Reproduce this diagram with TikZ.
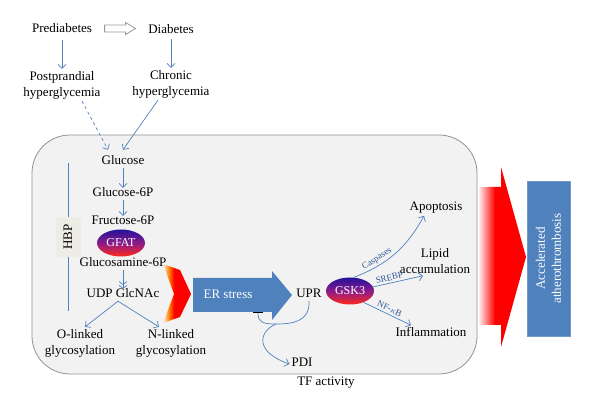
\documentclass[tikz,border=0pt]{standalone}
\usepackage{fontspec}
\setmainfont{Liberation Serif}
\usetikzlibrary{arrows.meta, positioning, shapes.geometric, calc}
\definecolor{flowblue}{HTML}{4F81BD}
\definecolor{tagblue}{HTML}{2F5597}
\definecolor{cellgray}{HTML}{F2F2F2}
\definecolor{hbpbeige}{HTML}{EEEDE5}
\definecolor{enzymetop}{HTML}{23129A}
\definecolor{enzymemid}{HTML}{8B1A8A}
\definecolor{enzymebot}{HTML}{FF2A1A}
\pgfdeclarehorizontalshading{flame}{100bp}{color(0bp)=(orange!10); color(25bp)=(orange!10); color(36bp)=(orange); color(45bp)=(red); color(100bp)=(red)}
\pgfdeclarehorizontalshading{glow}{100bp}{color(0bp)=(red!8); color(25bp)=(red!8); color(42bp)=(red); color(100bp)=(red)}
\tikzset{
    hg_text/.style={
        align=center,
        inner sep=2pt
    },
    hg_step/.style={
        hg_text,
        text height=1.5ex,
        text depth=.25ex
    },
    hg_enzyme/.style={
        ellipse,
        minimum width=48pt,
        minimum height=27pt,
        inner sep=0pt,
        top color=enzymetop,
        bottom color=enzymebot,
        middle color=enzymemid,
        text=white,
        font=\fontsize{12}{14}\selectfont
    },
    hg_cell/.style={
        rectangle,
        rounded corners=38pt,
        draw=gray!85,
        fill=cellgray,
        line width=0.8pt
    },
    hg_hbp/.style={
        rectangle,
        fill=hbpbeige,
        minimum width=40pt,
        minimum height=25pt,
        rotate=90
    },
    hg_outcome/.style={
        rectangle,
        draw=flowblue!80!white,
        fill=flowblue,
        text=white,
        align=center,
        rotate=90,
        minimum width=155pt,
        minimum height=43pt
    },
    hg_flow/.style={
        draw=flowblue,
        line width=0.7pt,
        -{Straight Barb[length=4pt, width=8pt]}
    },
    hg_block/.style={
        draw=flowblue,
        line width=0.7pt,
        -{Bar[width=10pt, line width=1pt, color=black]}
    },
    hg_line/.style={
        draw=flowblue,
        line width=0.7pt
    },
    hg_tag/.style={
        font=\fontsize{9}{10}\selectfont,
        text=tagblue,
        inner sep=1pt,
        outer sep=1.5pt
    },
    hg_hollow/.style={
        draw=gray!80,
        fill=white,
        line width=0.8pt
    }
}

\begin{document}
\begin{tikzpicture}[x=1pt, y=-1pt, font=\fontsize{13}{16}\selectfont]
\fill[white] (0,0) rectangle (600,411);
\useasboundingbox (0,0) rectangle (600,411);

% --- Cell ---
\node[hg_cell, minimum width=445pt, minimum height=239pt] (cell) at (254.5,254.5) {};

% --- Top (Diabetes) ---
\node[hg_text] (pre) at (62,28) {Prediabetes};
\node[hg_text] (dia) at (171,29) {Diabetes};
\node[hg_text, on grid, below=57pt of pre] (post) {Postprandial\\hyperglycemia};
\node[hg_text, on grid, below=55pt of dia] (chr) {Chronic\\hyperglycemia};

% --- Hexosamine pathway ---
\node[hg_step] (glc) at (123,162) {Glucose};
\node[hg_step, on grid, below=32pt of glc] (g6p) {Glucose-6P};
\node[hg_step, on grid, below=28pt of g6p] (f6p) {Fructose-6P};
\node[hg_enzyme, on grid, below=21pt of f6p, xshift=-2pt] (gfat) {GFAT};
\node[hg_step, on grid, below=42pt of f6p] (gln6p) {Glucosamine-6P};
\node[hg_step, on grid, below=31pt of gln6p] (udp) {UDP GlcNAc};
\node[hg_text, on grid, below=48pt of udp, xshift=-43pt] (olink) {O-linked\\glycosylation};
\node[hg_text, on grid, below=48pt of udp, xshift=48pt] (nlink) {N-linked\\glycosylation};
\node[hg_hbp] (hbp) at (68,237) {HBP};

% --- ER stress ---
\path[shading=flame] (163,264) -- (180,270) -- (191,294) -- (180,317) -- (163,323) -- (174,294) -- cycle;
\path[fill=flowblue] (193,278) -- (272,278) -- (272,271) -- (292,295) -- (272,320) -- (272,312) -- (193,312) -- cycle;
\node[hg_text, text=white] (er) at (228,294) {ER stress};
\node[hg_step] (upr) at (309,295) {UPR};
\node[hg_step] (pdi) at (302,364) {PDI};
\node[hg_step] (tf) at (326,383) {TF activity};
\coordinate (split) at (276,324);
\coordinate (erbar) at (258,312);

% --- GSK3 ---
\node[hg_enzyme] (gsk) at (350,291) {GSK3};
\node[hg_text] (apo) at (436,208) {Apoptosis};
\node[hg_text] (lipid) at (435,261) {Lipid\\accumulation};
\node[hg_text] (infl) at (431,332) {Inflammation};

% --- Outcome ---
\path[shading=glow] (479,187) -- (501,187) -- (501,167) -- (526,257) -- (501,347) -- (501,325) -- (479,325) -- cycle;
\node[hg_outcome] (athero) at (548.5,258.5) {Accelerated\\atherothrombosis};

% --- Edges ---
\draw[hg_hollow] ($(pre.east)!0.5!(dia.west)$) ++(-15.5,-3.5) -- ++(21,0) -- ++(0,-2.5) -- ++(10,6) -- ++(-10,6) -- ++(0,-2.5) -- ++(-21,0) -- cycle;
\draw[hg_flow, shorten <=5pt] (pre.south) -- (pre.south |- post.north);
\draw[hg_flow, shorten <=3pt] (dia.south) -- (dia.south |- chr.north);
\draw[hg_flow, dashed] ([xshift=20pt]post.south) -- ([xshift=-15pt, yshift=6pt]glc.north);
\draw[hg_flow] ([xshift=-13pt]chr.south) -- ([yshift=6pt]glc.north);

\draw[hg_flow] (glc) -- (g6p);
\draw[hg_flow] (g6p) -- (f6p);
\draw[hg_line, -{Straight Barb[length=3pt, width=8pt]Straight Barb[length=3pt, width=8pt]}] (gln6p) -- (udp);
\draw[hg_flow] ([xshift=-5pt]udp.south) -- ([xshift=5pt]olink.north);
\draw[hg_flow] ([xshift=-5pt]udp.south) -- ([xshift=-12pt]nlink.north);
\draw[hg_line] (hbp.east) -- ++(0,-54);
\draw[hg_line] (hbp.west) -- ++(0,54);

\draw[hg_block] (upr.south) .. controls (310,322) and (292,324) .. (split) .. controls (262,324) and (258,322) .. (erbar);
\draw[hg_flow] (split) .. controls (258,332) and (255,352) .. (pdi.west);

\draw[hg_flow] (gsk.75) to[bend right=20] node[hg_tag, sloped, above, pos=.3] {Caspases} ([xshift=-12pt]apo.south);
\draw[hg_flow] (gsk.10) -- node[hg_tag, sloped, above, pos=.35] {SREBP} ([xshift=-12pt]lipid.south);
\draw[hg_flow] (gsk.-40) -- node[hg_tag, sloped, above, pos=.5] {NF-$\kappa$B} ([xshift=-20pt]infl.north);

\end{tikzpicture}
\end{document}
